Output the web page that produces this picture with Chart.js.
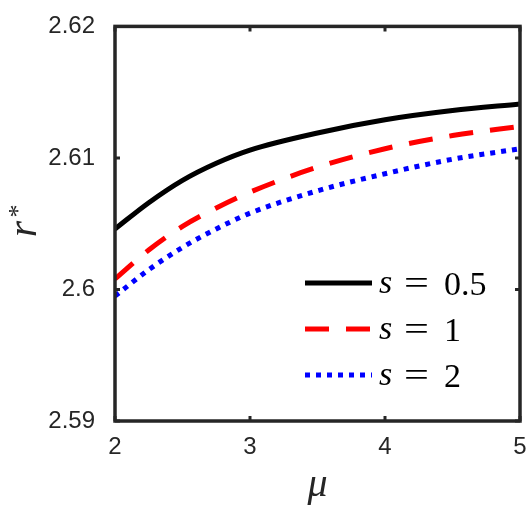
<!DOCTYPE html>
<html>
<head>
<meta charset="utf-8">
<script src="https://cdn.jsdelivr.net/npm/chart.js@4/dist/chart.umd.min.js"></script>
<style>
  html, body { margin: 0; padding: 0; background: #fff; }
  #wrap { width: 532px; height: 513px; }
</style>
</head>
<body>
<div id="wrap"><canvas id="c" width="532" height="513"></canvas></div>
<script>
// valores
const mu = [2, 2.25, 2.5, 2.75, 3, 3.5, 4, 4.5, 5];
const rS05 = [2.6046, 2.6066, 2.6083, 2.6096, 2.6106, 2.6119, 2.6129, 2.6136, 2.6141];
const rS1 = [2.6008, 2.6030, 2.6048, 2.6062, 2.6074, 2.6093, 2.6107, 2.6117, 2.6124];
const rS2 = [2.5995, 2.6015, 2.6032, 2.6046, 2.6058, 2.6075, 2.6088, 2.6099, 2.6107];
const xTicks = [2, 3, 4, 5];
const yTicks = [2.59, 2.6, 2.61, 2.62];
const legendNames = ['0.5', '1', '2'];

const pts = (ys) => mu.map((x, i) => ({ x: x, y: ys[i] }));

// moldura, ticks para dentro, legenda e rótulo r*
const boxPlugin = {
  id: 'box',
  afterDatasetsDraw(chart) {
    const { ctx, chartArea: a, scales } = chart;
    ctx.save();
    ctx.strokeStyle = '#262626';
    ctx.lineWidth = 3.5;
    ctx.strokeRect(a.left, a.top, a.right - a.left, a.bottom - a.top);
    ctx.lineWidth = 3;
    xTicks.forEach(v => {
      const px = scales.x.getPixelForValue(v);
      ctx.beginPath();
      ctx.moveTo(px, a.bottom); ctx.lineTo(px, a.bottom - 5);
      ctx.moveTo(px, a.top); ctx.lineTo(px, a.top + 5);
      ctx.stroke();
    });
    yTicks.forEach(v => {
      const py = scales.y.getPixelForValue(v);
      ctx.beginPath();
      ctx.moveTo(a.left, py); ctx.lineTo(a.left + 5, py);
      ctx.moveTo(a.right, py); ctx.lineTo(a.right - 5, py);
      ctx.stroke();
    });

    // legenda
    chart.data.datasets.forEach((ds, i) => {
      const y = 283 + i * 46;
      ctx.beginPath();
      ctx.strokeStyle = ds.borderColor;
      ctx.lineWidth = ds.borderWidth;
      ctx.setLineDash(ds.borderDash || []);
      ctx.moveTo(305, y); ctx.lineTo(372, y);
      ctx.stroke();
      ctx.setLineDash([]);
      ctx.fillStyle = '#000';
      ctx.textBaseline = 'alphabetic';
      ctx.font = 'italic 34px "Liberation Serif"';
      ctx.fillText('s', 379, y + 10);
      ctx.font = '34px "Liberation Serif"';
      ctx.save();
      ctx.translate(404, y + 11);
      ctx.scale(1.3, 1);
      ctx.fillText('=', 0, 0);
      ctx.restore();
      ctx.fillText(legendNames[i], 444, y + 12);
    });

    // rótulo do eixo y
    ctx.fillStyle = '#262626';
    ctx.translate(36, 229);
    ctx.rotate(-Math.PI / 2);
    ctx.textAlign = 'center';
    ctx.textBaseline = 'alphabetic';
    ctx.font = 'italic 42px "Liberation Serif"';
    ctx.fillText('r', 0, 0);
    ctx.font = '26px "Liberation Serif"';
    ctx.fillText('*', 18, -10);
    ctx.restore();
  }
};

new Chart(document.getElementById('c'), {
  type: 'line',
  data: {
    datasets: [
      { label: 's = 0.5', data: pts(rS05), borderColor: '#000000', borderWidth: 5 },
      { label: 's = 1', data: pts(rS1), borderColor: '#ff0000', borderWidth: 5, borderDash: [24, 17] },
      { label: 's = 2', data: pts(rS2), borderColor: '#0000ff', borderWidth: 5, borderDash: [5, 6] }
    ]
  },
  options: {
    responsive: false,
    animation: false,
    layout: { padding: { top: 16, right: 12, left: 0, bottom: 0 } },
    elements: { point: { radius: 0 }, line: { cubicInterpolationMode: 'monotone', borderCapStyle: 'butt' } },
    plugins: { legend: { display: false }, tooltip: { enabled: false } },
    scales: {
      x: {
        type: 'linear', min: 2, max: 5,
        grid: { display: false }, border: { display: false },
        afterBuildTicks: (s) => { s.ticks = xTicks.map(v => ({ value: v })); },
        afterFit: (s) => { s.height = 92; },
        ticks: { color: '#262626', padding: 4, font: { family: '"Liberation Sans"', size: 24 } },
        title: { display: true, text: 'μ', color: '#262626', padding: { top: 0 },
          font: { family: '"Liberation Serif"', style: 'italic', size: 40 } }
      },
      y: {
        min: 2.59, max: 2.62,
        grid: { display: false }, border: { display: false },
        afterBuildTicks: (s) => { s.ticks = yTicks.map(v => ({ value: v })); },
        afterFit: (s) => { s.width = 115; },
        ticks: { color: '#262626', padding: 12, font: { family: '"Liberation Sans"', size: 24 },
          callback: (v) => String(Number(v.toFixed(2))) }
      }
    }
  },
  plugins: [boxPlugin]
});
</script>
</body>
</html>
